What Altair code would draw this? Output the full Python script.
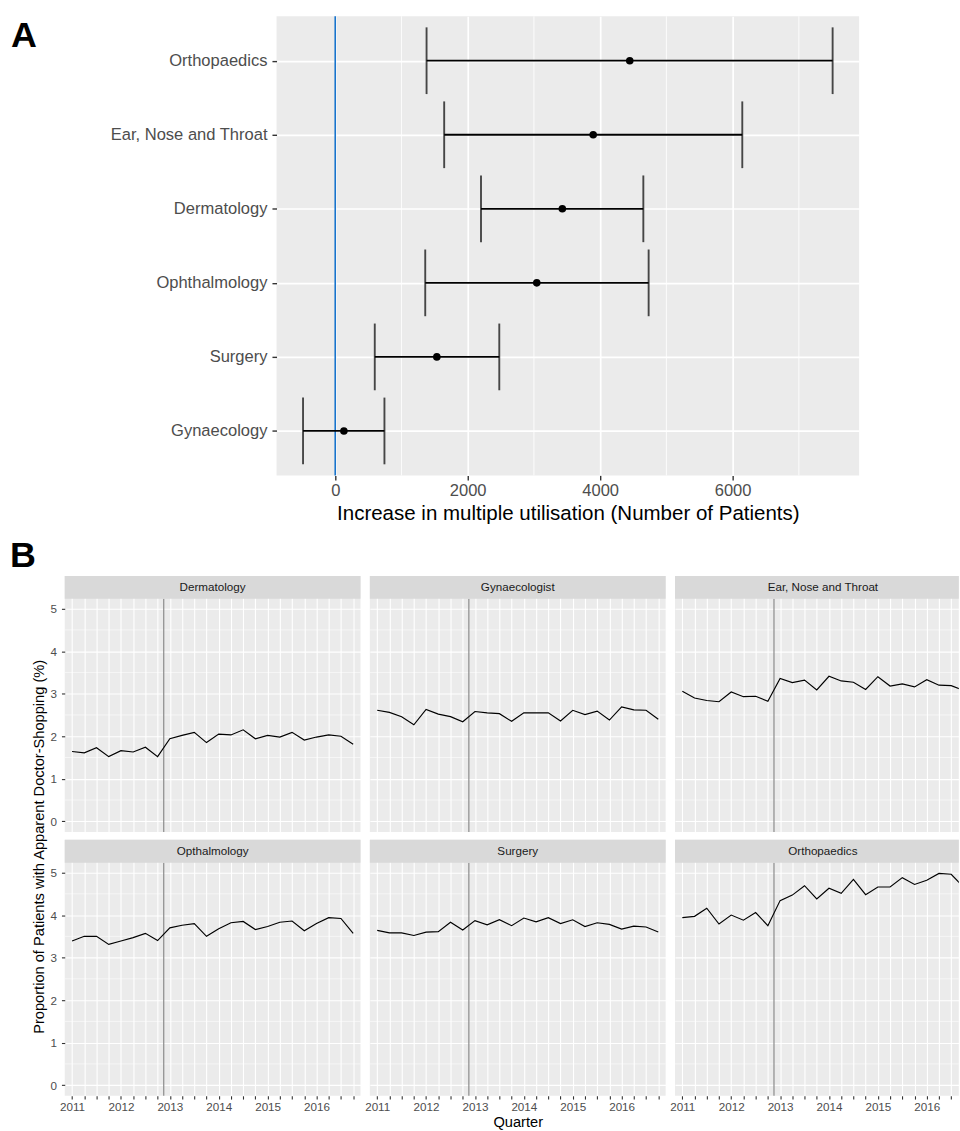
import altair as alt
import pandas as pd

FONT = "Liberation Sans"

# ---------------- Panel A data ----------------
specialties = ["Orthopaedics", "Ear, Nose and Throat", "Dermatology",
               "Ophthalmology", "Surgery", "Gynaecology"]
estimate = [4447, 3895, 3429, 3043, 1534, 131]
lower = [1379, 1645, 2201, 1359, 597, -486]
upper = [7510, 6146, 4652, 4732, 2477, 743]
x_ticks_a = [0, 2000, 4000, 6000]
x_minor_a = [1000, 3000, 5000, 7000]
panel_letters = ["A", "B"]

# ---------------- Panel B data ----------------
quarters = list(range(24))  # 2011 Q1 ... 2016 Q4
facet_names = ["Dermatology", "Gynaecologist", "Ear, Nose and Throat",
               "Opthalmology", "Surgery", "Orthopaedics"]
dermatology = [1.64, 1.61, 1.73, 1.52, 1.66, 1.63, 1.74, 1.52, 1.94, 2.02, 2.09, 1.85,
               2.05, 2.03, 2.15, 1.94, 2.02, 1.98, 2.09, 1.91, 1.98, 2.03, 2.00, 1.81]
gynaecologist = [2.61, 2.56, 2.46, 2.27, 2.63, 2.52, 2.46, 2.34, 2.58, 2.55, 2.53, 2.35,
                 2.55, 2.55, 2.55, 2.36, 2.61, 2.51, 2.59, 2.38, 2.69, 2.62, 2.61, 2.40]
ent = [3.06, 2.90, 2.84, 2.81, 3.04, 2.93, 2.94, 2.82, 3.36, 3.26, 3.32, 3.09,
       3.41, 3.30, 3.27, 3.10, 3.40, 3.18, 3.23, 3.16, 3.33, 3.20, 3.19, 3.08]
opthalmology = [3.39, 3.50, 3.50, 3.31, 3.39, 3.47, 3.57, 3.40, 3.70, 3.76, 3.80, 3.50,
                3.68, 3.82, 3.85, 3.66, 3.73, 3.83, 3.86, 3.63, 3.80, 3.94, 3.92, 3.57]
surgery = [3.64, 3.58, 3.58, 3.52, 3.60, 3.61, 3.83, 3.65, 3.87, 3.77, 3.89, 3.75,
           3.93, 3.84, 3.94, 3.80, 3.89, 3.73, 3.82, 3.78, 3.67, 3.74, 3.72, 3.60]
orthopaedics = [3.94, 3.97, 4.16, 3.79, 4.00, 3.88, 4.06, 3.75, 4.34, 4.47, 4.69, 4.38,
                4.63, 4.51, 4.84, 4.48, 4.66, 4.66, 4.88, 4.72, 4.82, 4.98, 4.96, 4.66]
series = [dermatology, gynaecologist, ent, opthalmology, surgery, orthopaedics]
intervention_quarter = [7.5]
y_ticks_b = [0, 1, 2, 3, 4, 5]
y_minor_b = [0.5, 1.5, 2.5, 3.5, 4.5]

# ---------------- Panel A ----------------
W_A, H_A = 585, 461
LAB_FS = 16.6
dfA = pd.DataFrame({"specialty": specialties, "estimate": estimate,
                    "lower": lower, "upper": upper})
xscA = alt.Scale(domain=[-886, 7910], nice=False, zero=False)
yscA = alt.Scale(type="point", domain=specialties, padding=0.6)
xaxA = alt.Axis(values=x_ticks_a, format="d", grid=True, gridColor="white", gridWidth=1.7,
                domain=False, tickColor="#333333", tickSize=4.6, tickWidth=1.4,
                labelFont=FONT, labelFontSize=LAB_FS, labelColor="#4d4d4d", labelPadding=3,
                labelFlush=False, title="Increase in multiple utilisation (Number of Patients)",
                titleFont=FONT, titleFontSize=20.6, titleColor="black",
                titleFontWeight="normal", titlePadding=4)
yaxA = alt.Axis(title=None, grid=True, gridColor="white", gridWidth=1.7, domain=False,
                tickColor="#333333", tickSize=4.6, tickWidth=1.4, labelFont=FONT,
                labelFontSize=LAB_FS, labelColor="#4d4d4d", labelPadding=5)

minorA = alt.Chart(pd.DataFrame({"v": x_minor_a})).mark_rule(
    color="white", strokeWidth=0.85).encode(
    x=alt.X("v:Q", scale=xscA, axis=xaxA), y=alt.value(0), y2=alt.value(H_A))
zeroA = alt.Chart(pd.DataFrame({"v": [0]})).mark_rule(
    color="#1874CD", strokeWidth=1.6).encode(x=alt.X("v:Q", scale=xscA, axis=xaxA))
barA = alt.Chart(dfA).mark_rule(color="black", strokeWidth=1.8).encode(
    x=alt.X("lower:Q", scale=xscA, axis=xaxA), x2="upper:Q",
    y=alt.Y("specialty:N", scale=yscA, axis=yaxA))
capLo = alt.Chart(dfA).mark_tick(color="black", size=67, thickness=1.9, orient="vertical").encode(
    x=alt.X("lower:Q", scale=xscA, axis=xaxA), y=alt.Y("specialty:N", scale=yscA, axis=yaxA))
capHi = alt.Chart(dfA).mark_tick(color="black", size=67, thickness=1.9, orient="vertical").encode(
    x=alt.X("upper:Q", scale=xscA, axis=xaxA), y=alt.Y("specialty:N", scale=yscA, axis=yaxA))
ptA = alt.Chart(dfA).mark_circle(color="black", size=58, opacity=1).encode(
    x=alt.X("estimate:Q", scale=xscA, axis=xaxA), y=alt.Y("specialty:N", scale=yscA, axis=yaxA))

panelA = alt.layer(minorA, zeroA, barA, capLo, capHi, ptA).properties(
    width=W_A, height=H_A, view=alt.ViewBackground(fill="#ebebeb", strokeWidth=0))

# panel letters, in a narrow chart to the left of panel A
LAB_W, LAB_H = 30, 562
labA = alt.Chart(pd.DataFrame({"t": [panel_letters[0]]})).mark_text(
    font=FONT, fontSize=36, fontWeight="bold", color="black", align="left",
    baseline="alphabetic").encode(text="t:N", x=alt.value(1), y=alt.value(31))
labB = alt.Chart(pd.DataFrame({"t": [panel_letters[1]]})).mark_text(
    font=FONT, fontSize=36, fontWeight="bold", color="black", align="left",
    baseline="alphabetic").encode(text="t:N", x=alt.value(0), y=alt.value(553))
letters = alt.layer(labA, labB).properties(width=LAB_W, height=LAB_H)

blockA = alt.hconcat(letters, panelA, spacing=69.7)

# ---------------- Panel B ----------------
STEP = 297 / 24.2
STRIP = 23
H_B = 234 + STRIP


def panel(idx):
    name = facet_names[idx]
    vals = series[idx]
    col, row = idx % 3, idx // 3
    W = 297 if col < 2 else 285
    xmax = -0.6 + W / STEP
    xs = alt.Scale(domain=[-0.6, xmax], nice=False, zero=False)
    ys = alt.Scale(domain=[-0.25, -0.25 + H_B * 5.48 / 234], nice=False, zero=False)
    bottom = row == 1
    left = col == 0
    tick_vals = [q for q in quarters if q <= xmax]
    xkw = dict(values=tick_vals, grid=True, gridColor="white", gridWidth=1.1, domain=False,
               labels=bottom, ticks=bottom, tickColor="#333333", tickSize=3.3, tickWidth=1.1,
               labelExpr="datum.value % 4 == 0 ? '' + (2011 + datum.value / 4) : ''",
               labelFont=FONT, labelFontSize=11.7, labelColor="#4d4d4d", labelPadding=2,
               labelOverlap=False, labelFlush=False)
    if bottom and col == 1:
        xkw.update(title="Quarter", titleFont=FONT, titleFontSize=14.7, titleColor="black",
                   titleFontWeight="normal", titlePadding=2)
    else:
        xkw.update(title=None)
    xax = alt.Axis(**xkw)
    yax = alt.Axis(values=y_ticks_b, grid=True, gridColor="white", gridWidth=1.1, domain=False,
                   labels=left, ticks=left, tickColor="#333333", tickSize=3.3, tickWidth=1.1,
                   labelFont=FONT, labelFontSize=11.7, labelColor="#4d4d4d", labelPadding=5,
                   labelFlush=False, labelOverlap=False, title=None)
    df = pd.DataFrame({"q": quarters, "v": vals})
    minor = alt.Chart(pd.DataFrame({"v": y_minor_b})).mark_rule(
        color="white", strokeWidth=0.55).encode(
        y=alt.Y("v:Q", scale=ys, axis=yax), x=alt.value(0), x2=alt.value(W))
    vline = alt.Chart(pd.DataFrame({"q": intervention_quarter})).mark_rule(
        color="#8c8c8c", strokeWidth=1.2).encode(
        x=alt.X("q:Q", scale=xs, axis=xax), y=alt.value(STRIP), y2=alt.value(H_B))
    line = alt.Chart(df).mark_line(color="black", strokeWidth=1.15, clip=True).encode(
        x=alt.X("q:Q", scale=xs, axis=xax), y=alt.Y("v:Q", scale=ys, axis=yax))
    strip = alt.Chart(pd.DataFrame({"t": [name]})).mark_rect(color="#d9d9d9").encode(
        x=alt.value(0), x2=alt.value(W), y=alt.value(0), y2=alt.value(STRIP))
    stext = alt.Chart(pd.DataFrame({"t": [name]})).mark_text(
        font=FONT, fontSize=11.7, color="#1a1a1a", align="center", baseline="middle").encode(
        text="t:N", x=alt.value(148.5), y=alt.value(STRIP / 2))
    return alt.layer(minor, vline, line, strip, stext).properties(
        width=W, height=H_B, view=alt.ViewBackground(fill="#ebebeb", strokeWidth=0))


panels = [panel(i) for i in range(6)]
cols = [alt.vconcat(panels[c], panels[c + 3], spacing=7) for c in range(3)]
# the first "2011" label overhangs each panel's left edge by ~5.6 px
colsBlock = alt.hconcat(*cols, spacing=2.4)

ytitle = alt.Chart(pd.DataFrame(
    {"t": ["Proportion of Patients with Apparent Doctor-Shopping (%)"]})).mark_text(
    font=FONT, fontSize=14.7, color="black", angle=270, align="center", baseline="middle").encode(
    text="t:N", x=alt.value(30), y=alt.value(272)).properties(width=38, height=2 * H_B + 7)

blockB = alt.hconcat(ytitle, colsBlock, spacing=2)

chart = alt.vconcat(blockA, blockB, spacing=0).properties(
    padding={"left": 10, "top": 13, "right": 0, "bottom": 1},
    background="white",
).configure(font=FONT).configure_view(strokeWidth=0)

chart.save("out.html", embed_options={"renderer": "svg", "actions": False})
